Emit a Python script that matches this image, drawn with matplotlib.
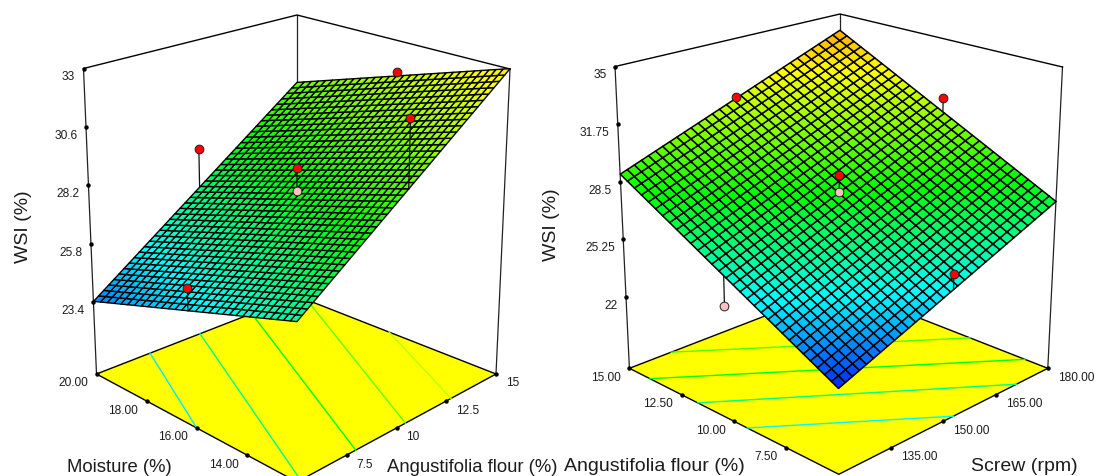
import numpy as np
import matplotlib
matplotlib.use("Agg")
import matplotlib.pyplot as plt
from matplotlib.collections import PolyCollection
from matplotlib.colors import LinearSegmentedColormap

# ---------- data ----------
z_label = "WSI (%)"

# left panel: A = Moisture, B = Angustifolia flour
L_a_range = [12.0, 20.0]
L_b_range = [5.0, 15.0]
L_z_floor, L_z_top = 20.45, 33.0
L_a_ticks = [20, 18, 16, 14]
L_a_ticklabels = ["20.00", "18.00", "16.00", "14.00"]
L_b_ticks = [15, 12.5, 10, 7.5]
L_b_ticklabels = ["15", "12.5", "10", "7.5"]
L_z_ticks = [33, 30.6, 28.2, 25.8, 23.4]
L_z_ticklabels = ["33", "30.6", "28.2", "25.8", "23.4"]
# surface at corners (front, left, right, back)
L_surface = [26.47, 23.65, 33.0, 30.13]
L_red = [(20, 10, 28.51), (16, 15, 31.74), (12, 10, 32.34), (16, 5, 25.95), (16, 10, 29.11)]
L_pink = [(16, 10, 28.2)]
L_contour_levels = [24.96, 26.75, 28.5, 30.05, 31.55]
L_contours = [((20, 7.67), (16, 5)), ((20, 10.16), (12, 5.18)), ((20, 12.74), (12, 7.95)),
              ((19.6, 15), (12, 10.45)), ((16.3, 15), (12, 12.74))]

# right panel: A = Angustifolia flour, B = Screw
R_a_range = [5.0, 15.0]
R_b_range = [120.0, 180.0]
R_z_floor, R_z_top = 17.95, 35.0
R_a_ticks = [15, 12.5, 10, 7.5]
R_a_ticklabels = ["15.00", "12.50", "10.00", "7.50"]
R_b_ticks = [180, 165, 150, 135]
R_b_ticklabels = ["180.00", "165.00", "150.00", "135.00"]
R_z_ticks = [35, 31.75, 28.5, 25.25, 22]
R_z_ticklabels = ["35", "31.75", "28.5", "25.25", "22"]
R_surface = [22.5, 29.18, 27.68, 34.05]
R_red = [(15, 150, 31.69), (10, 180, 31.68), (10, 150, 29.17), (5, 150, 25.95)]
R_pink = [(10, 150, 28.19), (10, 120, 24.2)]
R_contour_levels = [29.78, 28.2, 26.8, 25.2]
R_contours = [((15, 131.9), (8.74, 180)), ((14.02, 120), (6.1, 180)),
              ((11.74, 120), (5, 171)), ((9.37, 120), (5, 152.9))]

# colour scale of the response
color_levels = [22.0, 25.25, 28.5, 32.6, 37.0]
color_names = ["#0000ff", "#00ffff", "#00ff00", "#ffff00", "#ff0000"]

# ---------- style / layout ----------
W, H = 1096, 476
plt.rcParams["font.family"] = ["Liberation Sans", "DejaVu Sans"]
TXT = "#1c1c1c"
TICK_FS = 8.6

fig = plt.figure(figsize=(W / 100, H / 100), dpi=100)
ax = fig.add_axes([0, 0, 1, 1])
ax.set_xlim(0, W)
ax.set_ylim(H, 0)
ax.axis("off")

cmap = LinearSegmentedColormap.from_list(
    "resp", [((v - color_levels[0]) / (color_levels[-1] - color_levels[0]), c)
             for v, c in zip(color_levels, color_names)])


def color_of(z):
    return cmap((z - color_levels[0]) / (color_levels[-1] - color_levels[0]))


def fit_camera(floor, top):
    """floor/top: dict of corner -> pixel; box coords u (A), v (B), w (height)."""
    where = {"front": (0, 0), "left": (1, 0), "right": (0, 1), "back": (1, 1)}
    rows = []
    rhs = []
    for w, d in ((0, floor), (1, top)):
        for k, (px, py) in d.items():
            u, v = where[k]
            X = [u, v, w, 1]
            rows.append(X + [0, 0, 0, 0] + [-px * c for c in X[:3]])
            rhs.append(px)
            rows.append([0, 0, 0, 0] + X + [-py * c for c in X[:3]])
            rhs.append(py)
    sol = np.linalg.lstsq(np.array(rows, float), np.array(rhs, float), rcond=None)[0]
    return np.append(sol, 1.0).reshape(3, 4)


def panel(floor_px, top_px, a_rng, b_rng, zf, zt, surf, n_a, n_b, mesh_lw,
          a_ticks, a_lbl, b_ticks, b_lbl, z_ticks, z_lbl, red, pink, levels, contours):
    P = fit_camera(floor_px, top_px)

    def unit(a, b):
        return (a - a_rng[0]) / (a_rng[1] - a_rng[0]), (b - b_rng[0]) / (b_rng[1] - b_rng[0])

    def proj(a, b, z):
        a, b, z = np.asarray(a, float), np.asarray(b, float), np.asarray(z, float)
        u, v = unit(a, b)
        w = (z - zf) / (zt - zf)
        X = np.stack([u, v, w, np.ones_like(u + v + w)], axis=-1)
        q = X @ P.T
        return q[..., 0] / q[..., 2], q[..., 1] / q[..., 2]

    def blend(corners, a, b):
        # floor, ticks and mesh are spaced evenly between their corner pixels
        u, v = unit(np.asarray(a, float), np.asarray(b, float))
        f, l, r, k = corners
        x = f[0] * (1 - u) * (1 - v) + l[0] * u * (1 - v) + r[0] * (1 - u) * v + k[0] * u * v
        y = f[1] * (1 - u) * (1 - v) + l[1] * u * (1 - v) + r[1] * (1 - u) * v + k[1] * u * v
        return x, y

    floor_c = [floor_px["front"], floor_px["left"], floor_px["right"], floor_px["back"]]

    def floor_xy(a, b):
        return blend(floor_c, a, b)

    def surf_z(a, b):
        u, v = unit(a, b)
        return (surf[0] * (1 - u) * (1 - v) + surf[1] * u * (1 - v)
                + surf[2] * (1 - u) * v + surf[3] * u * v)

    a0, a1 = a_rng
    b0, b1 = b_rng
    fl = floor_px["left"]
    tl = top_px["left"]
    surf_c = [tuple(float(q) for q in proj(aa, bb, zz))
              for aa, bb, zz in ((a0, b0, surf[0]), (a1, b0, surf[1]),
                                 (a0, b1, surf[2]), (a1, b1, surf[3]))]
    # back vertical + floor
    ax.plot([floor_px["back"][0], top_px["back"][0]], [floor_px["back"][1], top_px["back"][1]],
            color="#222222", lw=0.9, zorder=1)
    cx, cy = floor_xy([a1, a1, a0, a0], [b0, b1, b1, b0])
    ax.fill(cx, cy, facecolor="#ffff00", edgecolor="black", lw=1.0, zorder=2)
    # contours on floor
    for lev, (p, q) in zip(levels, contours):
        lx, ly = floor_xy([p[0], q[0]], [p[1], q[1]])
        ax.plot(lx, ly, color=color_of(lev), lw=1.0, zorder=3)
    # box lines
    for k in ("left", "right"):
        ax.plot([floor_px[k][0], top_px[k][0]], [floor_px[k][1], top_px[k][1]],
                color="#222222", lw=0.9, zorder=2.5)
    ax.plot([top_px[k][0] for k in ("left", "back", "right")],
            [top_px[k][1] for k in ("left", "back", "right")], color="black", lw=1.0, zorder=2.5)
    # surface
    A = np.linspace(a0, a1, n_a + 1)
    B = np.linspace(b0, b1, n_b + 1)
    AA, BB = np.meshgrid(A, B, indexing="ij")
    ZZ = surf_z(AA, BB)
    sx, sy = blend(surf_c, AA, BB)
    polys, cols = [], []
    for i in range(n_a):
        for j in range(n_b):
            polys.append([(sx[i, j], sy[i, j]), (sx[i + 1, j], sy[i + 1, j]),
                          (sx[i + 1, j + 1], sy[i + 1, j + 1]), (sx[i, j + 1], sy[i, j + 1])])
            cols.append(color_of(ZZ[i:i + 2, j:j + 2].mean()))
    ax.add_collection(PolyCollection(polys, facecolors=cols, edgecolors="black",
                                     linewidths=mesh_lw, zorder=4))
    # stems and design points
    for pts in (pink, red):
        for (pa, pb, pz) in pts:
            ex, ey = proj([pa, pa], [pb, pb], [pz, surf_z(pa, pb)])
            ax.plot(ex, ey, color="#101010", lw=0.9, zorder=5)
    for pts, col in ((pink, "#ffc0c0"), (red, "#ff0000")):
        for (pa, pb, pz) in pts:
            ex, ey = proj(pa, pb, pz)
            ax.plot([ex], [ey], "o", ms=6.3, mfc=col, mec="#202020", mew=0.7, zorder=6)
    # ticks (evenly spaced between the corner pixels)
    for v, s in zip(z_ticks, z_lbl):
        t = (v - zf) / (zt - zf)
        x = fl[0] + (tl[0] - fl[0]) * t
        y = fl[1] + (tl[1] - fl[1]) * t
        ax.plot([x], [y], "o", ms=2.2, color="black", zorder=7)
        ax.text(x - 8.5, y + 9, s, ha="right", va="center", fontsize=TICK_FS, color=TXT)
    for v, s in zip(a_ticks, a_lbl):
        x, y = floor_xy(v, b0)
        ax.plot([x], [y], "o", ms=2.2, color="black", zorder=7)
        ax.text(x - 8.5, y + 9.5, s, ha="right", va="center", fontsize=TICK_FS, color=TXT)
    for v, s in zip(b_ticks, b_lbl):
        x, y = floor_xy(a0, v)
        ax.plot([x], [y], "o", ms=2.2, color="black", zorder=7)
        ax.text(x + 10, y + 9.5, s, ha="left", va="center", fontsize=TICK_FS, color=TXT)


panel({"left": (96.5, 374), "right": (496, 374), "back": (297, 296), "front": (297, 482)},
      {"left": (83.5, 68.5), "right": (510, 69), "back": (297, 15)},
      L_a_range, L_b_range, L_z_floor, L_z_top, L_surface, 30, 40, 1.0,
      L_a_ticks, L_a_ticklabels, L_b_ticks, L_b_ticklabels, L_z_ticks, L_z_ticklabels,
      L_red, L_pink, L_contour_levels, L_contours)
panel({"left": (629.4, 368.3), "right": (1047.8, 368.3), "back": (840, 287), "front": (838.8, 474.3)},
      {"left": (615, 66.5), "right": (1062.5, 67), "back": (840, 14)},
      R_a_range, R_b_range, R_z_floor, R_z_top, R_surface, 31, 31, 1.1,
      R_a_ticks, R_a_ticklabels, R_b_ticks, R_b_ticklabels, R_z_ticks, R_z_ticklabels,
      R_red, R_pink, R_contour_levels, R_contours)

ax.text(24, 227, z_label, rotation=90, ha="center", va="center", fontsize=14, color=TXT)
ax.text(551, 225, z_label, rotation=90, ha="center", va="center", fontsize=14, color=TXT)
ax.text(119.5, 472, "Moisture (%)", ha="center", va="baseline", fontsize=13.3, color=TXT)
ax.text(387, 472, "Angustifolia flour (%)", ha="left", va="baseline", fontsize=13.3, color=TXT)
ax.text(654, 471, "Angustifolia flour (%)", ha="center", va="baseline", fontsize=14, color=TXT)
ax.text(1024.5, 471, "Screw (rpm)", ha="center", va="baseline", fontsize=14, color=TXT)

fig.savefig("out.png", dpi=100)
